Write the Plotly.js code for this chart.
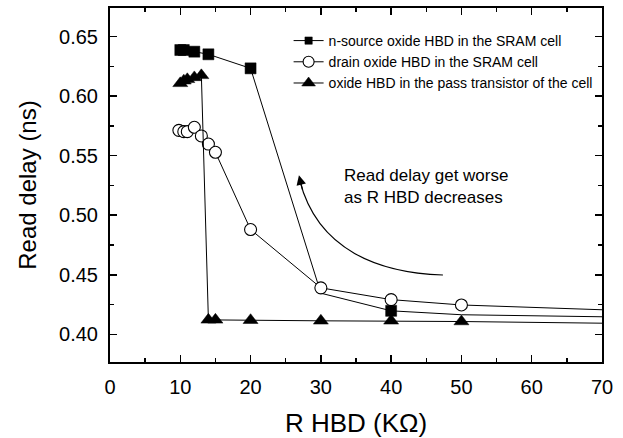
<!DOCTYPE html>
<html>
<head>
<meta charset="utf-8">
<script src="https://cdn.plot.ly/plotly-3.0.1.min.js"></script>
<style>html,body{margin:0;padding:0;background:#fff;}#chart{width:623px;height:438px;}</style>
</head>
<body>
<div id="chart"></div>
<script>
// ---- data ----
const seriesNames = [
  "n-source oxide HBD in the SRAM cell",
  "drain oxide HBD in the SRAM cell",
  "oxide HBD in the pass transistor of the cell"
];
const xSource = [10, 10.5, 12, 14, 20, 30, 40, 50, 70];
const ySource = [0.6388, 0.6388, 0.6374, 0.6352, 0.6234, 0.4345, 0.4197, 0.4164, 0.4147];
const xDrain = [9.8, 10.5, 11, 12, 13, 14, 15, 20, 30, 40, 50, 70];
const yDrain = [0.5713, 0.5702, 0.5702, 0.5739, 0.5666, 0.5598, 0.5529, 0.488, 0.4390, 0.4291, 0.4246, 0.4206];
const xPass = [10, 10.5, 11, 12, 13, 14, 15, 20, 30, 40, 50, 70];
const yPass = [0.6108, 0.6130, 0.6142, 0.6158, 0.6175, 0.4121, 0.4121, 0.4118, 0.4113, 0.4113, 0.4107, 0.4093];
// markers are not drawn on these x positions (line continues only)
const hiddenSource = [30, 50, 70];
const hiddenDrain = [70];
const hiddenPass = [70];
const xTicks = [0, 10, 20, 30, 40, 50, 60, 70];
const yTicks = [0.40, 0.45, 0.50, 0.55, 0.60, 0.65];
const noteText = "Read delay get worse<br>as R HBD decreases";
// arrow curve (data coords): tail, control1, control2, head
const curveX = [47.37, 38.41, 29.59, 27.0];
const curveY = [0.4498, 0.4514, 0.4700, 0.5290];
const arrowTip = [26.88, 0.5335];

const FONT = "Liberation Sans, Arial, sans-serif";
function sizes(xs, hidden, s) { return xs.map(v => hidden.includes(v) ? 0 : s); }

const common = {mode: "lines+markers", line: {color: "#000", width: 1}, cliponaxis: false};
const traces = [
  Object.assign({}, common, {
    x: xSource, y: ySource, name: seriesNames[0],
    marker: {symbol: "square", color: "#000000", opacity: 1, size: sizes(xSource, hiddenSource, 11), line: {color: "#000000", width: 0.5}}
  }),
  Object.assign({}, common, {
    x: xDrain, y: yDrain, name: seriesNames[1],
    marker: {symbol: "circle", color: "#ffffff", opacity: 1, size: sizes(xDrain, hiddenDrain, 12), line: {color: "#000000", width: 1.1}}
  }),
  Object.assign({}, common, {
    x: xPass, y: yPass, name: seriesNames[2],
    marker: {symbol: "triangle-up", color: "#000000", opacity: 1, size: sizes(xPass, hiddenPass, 13), line: {color: "#000000", width: 0.5}}
  })
];

const axisCommon = {
  showgrid: false, zeroline: false, showline: true, linecolor: "#000", linewidth: 2,
  mirror: "allticks", ticks: "inside", ticklen: 7, tickwidth: 1.5, tickcolor: "#000",
  tickfont: {family: FONT, size: 20, color: "#000"}, ticklabelstandoff: 6
};

const layout = {
  width: 623, height: 438,
  margin: {l: 110, r: 21, t: 8, b: 76},
  paper_bgcolor: "#fff", plot_bgcolor: "#fff",
  font: {family: FONT, color: "#000"},
  showlegend: true,
  legend: {
    x: 0.363, y: 0.952, xanchor: "left", yanchor: "top",
    bgcolor: "rgba(0,0,0,0)", borderwidth: 0,
    font: {family: FONT, size: 14, color: "#000"},
    tracegroupgap: 0, itemwidth: 30
  },
  xaxis: Object.assign({}, axisCommon, {
    range: [0, 70], tickvals: xTicks, ticktext: xTicks.map(String),
    minor: {dtick: 5, ticks: "inside", ticklen: 4, tickwidth: 1.5, tickcolor: "#000"},
    title: {text: "R HBD (KΩ)", font: {family: FONT, size: 26, color: "#000"}, standoff: 17}
  }),
  yaxis: Object.assign({}, axisCommon, {
    range: [0.3767, 0.6741], tickvals: yTicks, ticktext: yTicks.map(v => v.toFixed(2)),
    minor: {dtick: 0.025, tick0: 0.4, ticks: "inside", ticklen: 4, tickwidth: 1.5, tickcolor: "#000"},
    title: {text: "Read delay (ns)", font: {family: FONT, size: 24, color: "#000"}, standoff: 16}
  }),
  shapes: [{
    type: "path", xref: "x", yref: "y",
    path: "M " + curveX[0] + "," + curveY[0] +
          " C " + curveX[1] + "," + curveY[1] + " " + curveX[2] + "," + curveY[2] +
          " " + curveX[3] + "," + curveY[3],
    line: {color: "#000", width: 1.2}
  }],
  annotations: [
    {
      x: arrowTip[0], y: arrowTip[1], xref: "x", yref: "y", text: "",
      showarrow: true, arrowhead: 2, arrowsize: 1.6, arrowwidth: 1.2, arrowcolor: "#000",
      ax: 4, ay: 16, axref: "pixel", ayref: "pixel"
    },
    {
      x: 32.96, y: 0.524, xref: "x", yref: "y", text: noteText,
      showarrow: false, xanchor: "left", yanchor: "middle", align: "left",
      font: {family: FONT, size: 17, color: "#000"}
    }
  ]
};

Plotly.newPlot("chart", traces, layout, {displayModeBar: false, staticPlot: true});
</script>
</body>
</html>
